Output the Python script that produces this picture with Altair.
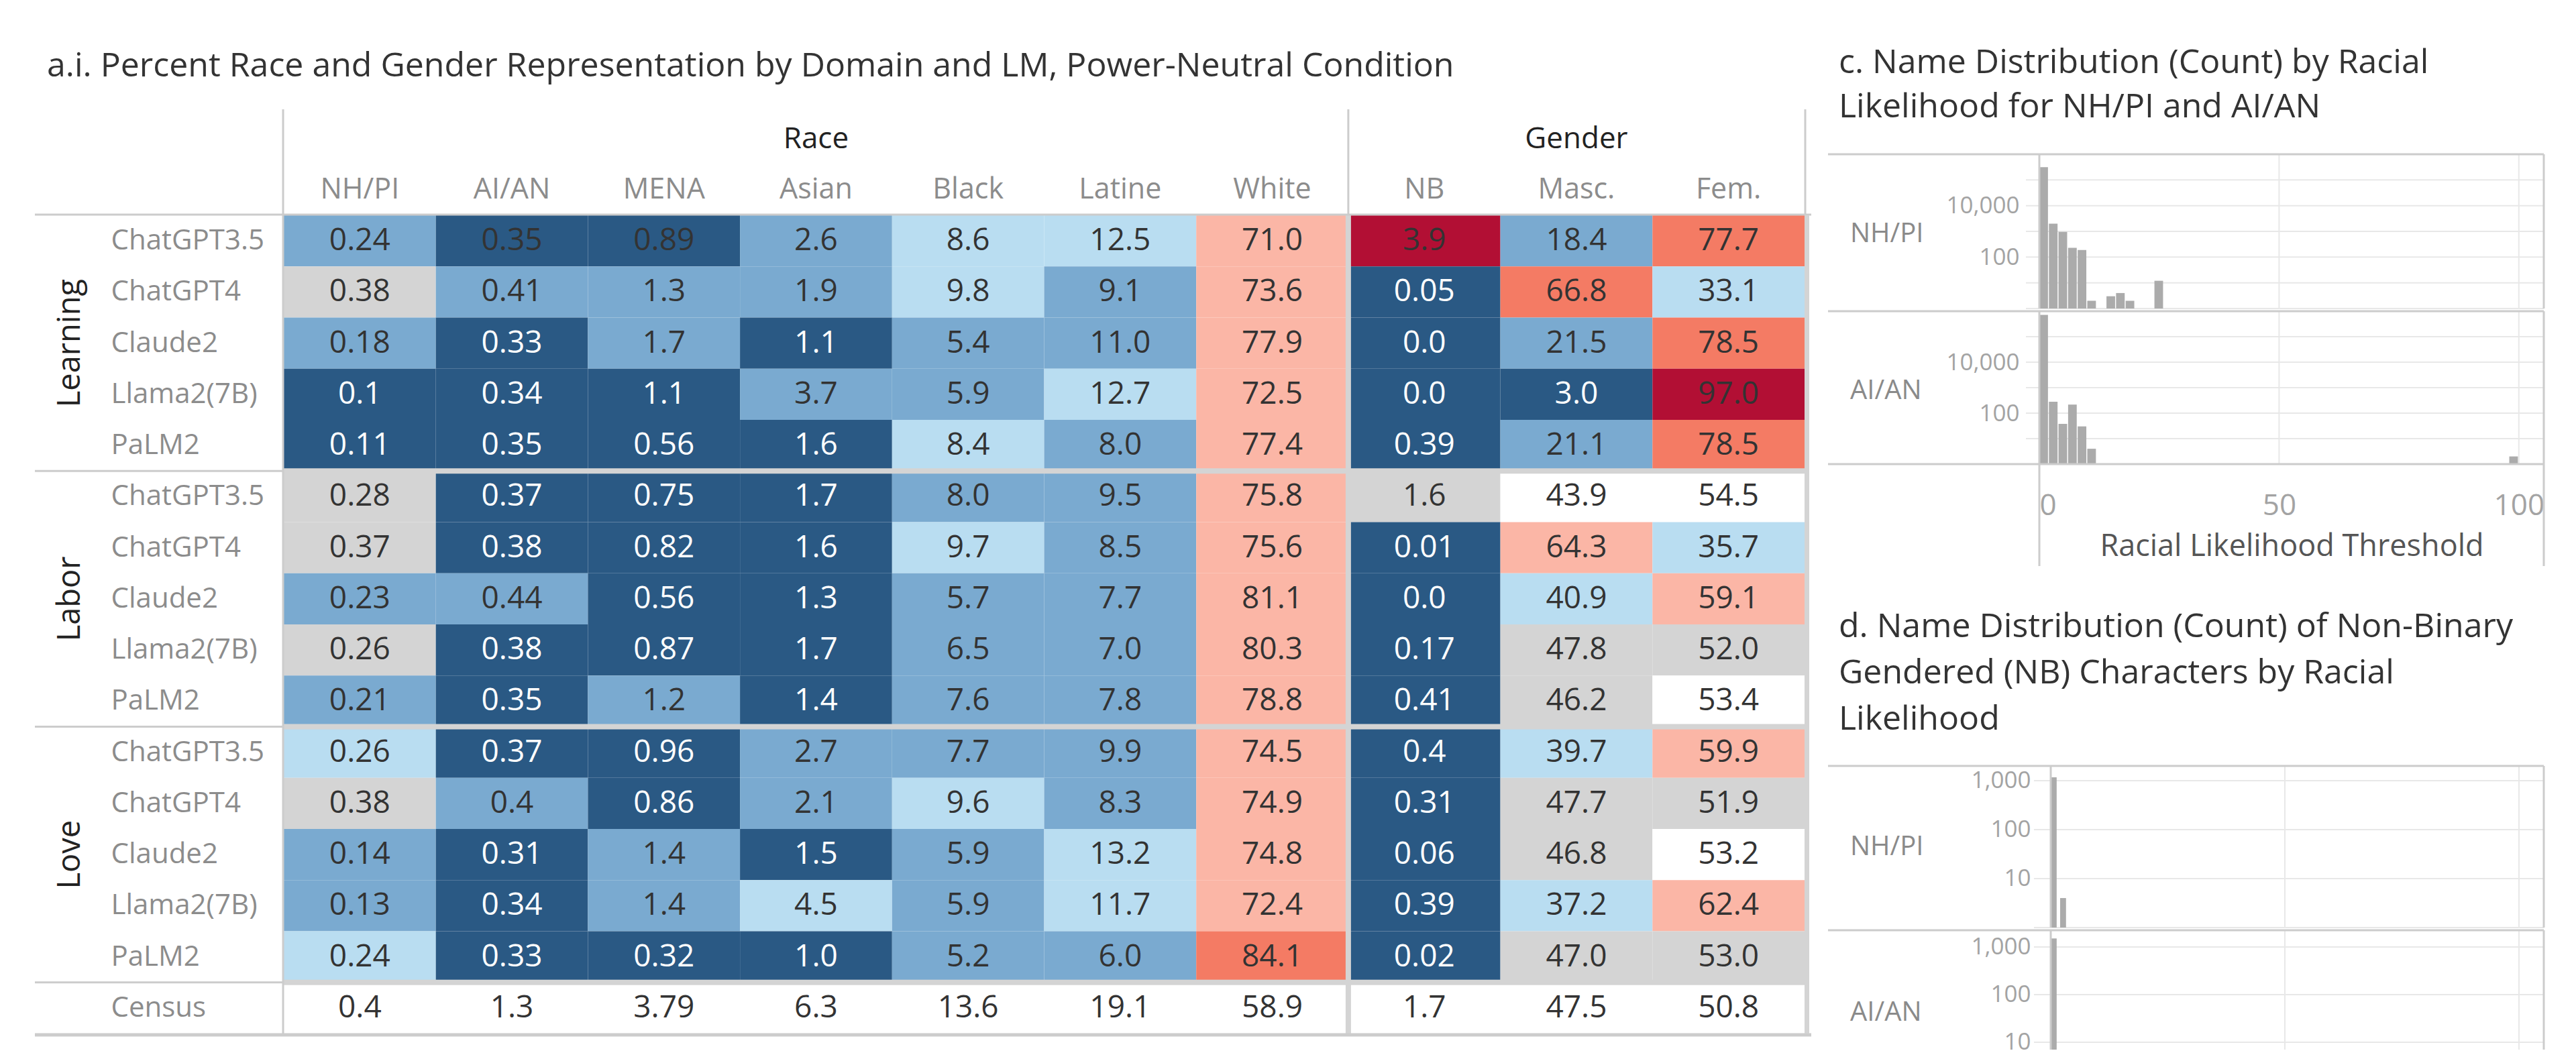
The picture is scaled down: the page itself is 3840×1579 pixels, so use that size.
import altair as alt
import pandas as pd

FONT = "Open Sans"
DARK = "#333333"
LINE = "#cccccc"
SEP = "#d4d4d4"
GRIDC = "#e8e8e8"
LABEL_GRAY = "#8c8c8c"
BAR = "#ababab"

# ---------------- table data ----------------
domains = ["Learning", "Labor", "Love"]
models = ["ChatGPT3.5", "ChatGPT4", "Claude2", "Llama2(7B)", "PaLM2"]
race_cols = ["NH/PI", "AI/AN", "MENA", "Asian", "Black", "Latine", "White"]
gender_cols = ["NB", "Masc.", "Fem."]
group_names = ["Race", "Gender"]
census_label = "Census"

learning_vals = [
    [0.24, 0.35, 0.89, 2.6, 8.6, 12.5, 71.0, 3.9, 18.4, 77.7],
    [0.38, 0.41, 1.3, 1.9, 9.8, 9.1, 73.6, 0.05, 66.8, 33.1],
    [0.18, 0.33, 1.7, 1.1, 5.4, 11.0, 77.9, 0.0, 21.5, 78.5],
    [0.1, 0.34, 1.1, 3.7, 5.9, 12.7, 72.5, 0.0, 3.0, 97.0],
    [0.11, 0.35, 0.56, 1.6, 8.4, 8.0, 77.4, 0.39, 21.1, 78.5],
]
labor_vals = [
    [0.28, 0.37, 0.75, 1.7, 8.0, 9.5, 75.8, 1.6, 43.9, 54.5],
    [0.37, 0.38, 0.82, 1.6, 9.7, 8.5, 75.6, 0.01, 64.3, 35.7],
    [0.23, 0.44, 0.56, 1.3, 5.7, 7.7, 81.1, 0.0, 40.9, 59.1],
    [0.26, 0.38, 0.87, 1.7, 6.5, 7.0, 80.3, 0.17, 47.8, 52.0],
    [0.21, 0.35, 1.2, 1.4, 7.6, 7.8, 78.8, 0.41, 46.2, 53.4],
]
love_vals = [
    [0.26, 0.37, 0.96, 2.7, 7.7, 9.9, 74.5, 0.4, 39.7, 59.9],
    [0.38, 0.4, 0.86, 2.1, 9.6, 8.3, 74.9, 0.31, 47.7, 51.9],
    [0.14, 0.31, 1.4, 1.5, 5.9, 13.2, 74.8, 0.06, 46.8, 53.2],
    [0.13, 0.34, 1.4, 4.5, 5.9, 11.7, 72.4, 0.39, 37.2, 62.4],
    [0.24, 0.33, 0.32, 1.0, 5.2, 6.0, 84.1, 0.02, 47.0, 53.0],
]
census_vals = [0.4, 1.3, 3.79, 6.3, 13.6, 19.1, 58.9, 1.7, 47.5, 50.8]

# colour class of every cell (D dark blue, d dark blue w/ dark text, M mid blue,
# L light blue, G grey, W white, R1 light red, R2 mid red, R3 dark red)
learning_cls = ["M d d M L L R1 R3 M R2", "G M M M L M R1 D R2 L", "M D M D M M R1 D M R2",
                "D D D M M L R1 D D R3", "D D D D L M R1 D M R2"]
labor_cls = ["G D D D M M R1 G W W", "G D D D L M R1 D R1 L", "M M D D M M R1 D L R1",
             "G D D D M M R1 D G G", "M D M D M M R1 D G W"]
love_cls = ["L D D M M M R1 D L R1", "G M D M L M R1 D G G", "M D M D M L R1 D G W",
            "M D M L M L R1 D L R1", "L D D D M M R2 D G G"]
census_cls = "W W W W W W W W W W"

class_names = ["D", "d", "M", "L", "G", "W", "R1", "R2", "R3"]
class_fill = ["#2a5984", "#2a5984", "#7aaad0", "#b9ddf1", "#d4d4d4", "#ffffff",
              "#fbb6a6", "#f47b64", "#b20f34"]
class_text = ["#ffffff", DARK, DARK, DARK, DARK, DARK, DARK, DARK, DARK]

# ---------------- histogram data ----------------
hist_races = ["NH/PI", "AI/AN"]
c_nhpi_bins = [0, 2, 4, 6, 8, 10, 14, 16, 18, 24]
c_nhpi_counts = [316000, 2000, 950, 230, 190, 2, 3, 4, 2, 12]
c_aian_bins = [0, 2, 4, 6, 8, 10, 98]
c_aian_counts = [720000, 280, 38, 215, 30, 4, 2]
d_nhpi_bins = [0, 2]
d_nhpi_counts = [1170, 4]
d_aian_bins = [0]
d_aian_counts = [1500]
c_bin_width = 2
d_bin_width = 1.4
x_ticks = [0, 50, 100]
x_grid = [50, 100]

title_a = "a.i. Percent Race and Gender Representation by Domain and LM, Power-Neutral Condition"
title_c = "c. Name Distribution (Count) by Racial\nLikelihood for NH/PI and AI/AN"
title_d = "d. Name Distribution (Count) of Non-Binary\nGendered (NB) Characters by Racial\nLikelihood"
x_title = "Racial Likelihood Threshold"

TITLE_SIZE = 50

# ---------------- helpers ----------------
one = pd.DataFrame({"k": [0]})


def hrule(y, x0, x1, color=LINE, w=3):
    return alt.Chart(one).mark_rule(color=color, strokeWidth=w).encode(
        x=alt.value(x0), x2=alt.value(x1), y=alt.value(y))


def vrule(x, y0, y1, color=LINE, w=3):
    return alt.Chart(one).mark_rule(color=color, strokeWidth=w).encode(
        x=alt.value(x), y=alt.value(y0), y2=alt.value(y1))


def text_at(t, x, y, size, color, **kw):
    return alt.Chart(pd.DataFrame({"t": [t]})).mark_text(
        font=FONT, fontSize=size, color=color, align="left", baseline="middle", **kw
    ).encode(text="t:N", x=alt.value(x), y=alt.value(y))


# ---------------- table ----------------
columns = race_cols + gender_cols
records, row_keys = [], []
for dom, vals, cls in zip(domains, [learning_vals, labor_vals, love_vals],
                          [learning_cls, labor_cls, love_cls]):
    for m, rv, rc in zip(models, vals, cls):
        key = f"{dom}|{m}"
        row_keys.append(key)
        for c, v, k in zip(columns, rv, rc.split()):
            records.append({"key": key, "col": c, "label": str(v), "cls": k})
ckey = f"{census_label}|{census_label}"
row_keys.append(ckey)
for c, v, k in zip(columns, census_vals, census_cls.split()):
    records.append({"key": ckey, "col": c, "label": str(v), "cls": k})
tdf = pd.DataFrame(records)

W = 2267          # plot width (10 columns)
HDR = 91          # header band inside the plot (same top as panel c)
BODY = 1220       # 16 rows
TH = HDR + BODY
LEFT = -371

xscale = alt.Scale(domain=columns, paddingInner=0, paddingOuter=0)
yscale = alt.Scale(domain=row_keys, range=[HDR, TH], paddingInner=0, paddingOuter=0)
yaxis = alt.Axis(title=None, ticks=False, tickSize=0, domain=False, labelAlign="left",
                 labelPadding=258, labelExpr="split(datum.label, '|')[1]", labelFont=FONT,
                 labelFontSize=42, labelColor=LABEL_GRAY, labelLimit=600, labelOverlap=False)
X = alt.X("col:N", scale=xscale, axis=None)
Y = alt.Y("key:N", scale=yscale, axis=yaxis)
Xb = alt.X("col:N", scale=xscale, axis=None, bandPosition=0)
Yb = alt.Y("key:N", scale=yscale, axis=yaxis, bandPosition=0)

cells = alt.Chart(tdf).mark_rect().encode(
    x=X, y=Y,
    fill=alt.Fill("cls:N", scale=alt.Scale(domain=class_names, range=class_fill), legend=None))
nums = alt.Chart(tdf).mark_text(font=FONT, fontSize=46, baseline="middle").encode(
    x=X, y=Y, text="label:N",
    color=alt.Color("cls:N", scale=alt.Scale(domain=class_names, range=class_text), legend=None))

col_df = pd.DataFrame({"col": columns})
col_heads = alt.Chart(col_df).mark_text(font=FONT, fontSize=43, color=LABEL_GRAY,
                                        baseline="middle").encode(
    x=X, y=alt.value(HDR - 38), text="col:N")

sep_df = pd.DataFrame({"key": [f"{d}|{models[0]}" for d in domains[1:]] + [ckey]})
sep_thick = alt.Chart(sep_df).mark_rule(color=SEP, strokeWidth=8).encode(
    y=Yb, x=alt.value(0), x2=alt.value(W))
sep_thin = alt.Chart(sep_df).mark_rule(color=LINE, strokeWidth=3).encode(
    y=Yb, x=alt.value(LEFT), x2=alt.value(0))

div_df = pd.DataFrame({"col": [gender_cols[0]]})
div_thick = alt.Chart(div_df).mark_rule(color=SEP, strokeWidth=8).encode(
    x=Xb, y=alt.value(HDR), y2=alt.value(TH))
div_thin = alt.Chart(div_df).mark_rule(color=LINE, strokeWidth=3).encode(
    x=Xb, y=alt.value(HDR - 158), y2=alt.value(HDR))

grp_df = pd.DataFrame({"t": group_names,
                       "col": [race_cols[len(race_cols) // 2], gender_cols[len(gender_cols) // 2]]})
grp = alt.Chart(grp_df).mark_text(font=FONT, fontSize=44, color="#222222", baseline="middle").encode(
    text="t:N", x=X, y=alt.value(HDR - 113))

dom_df = pd.DataFrame({"t": domains, "key": [f"{d}|{models[len(models) // 2]}" for d in domains]})
dom = alt.Chart(dom_df).mark_text(font=FONT, fontSize=47, color="#222222", angle=270,
                                  baseline="middle").encode(text="t:N", x=alt.value(-318), y=Y)

table = alt.layer(
    cells, nums, col_heads, sep_thick, sep_thin, div_thick, div_thin,
    hrule(HDR - 1, LEFT, W + 10), hrule(TH + 2, LEFT, W + 10, w=5),
    vrule(-1, HDR - 158, TH + 2), vrule(W + 3.5, HDR, TH, color=SEP, w=7),
    vrule(W + 1, HDR - 158, HDR),
    grp, dom,
    text_at(title_a, -353, HDR - 222, TITLE_SIZE, DARK),
).properties(width=W, height=TH)


# ---------------- histograms ----------------
def hist_row(race, bins, counts, bin_w, height, xdom, ydom, label_vals, grid_vals,
             label_y, label_pad, grid_x0, x_axis=None, bottom_line=False, ext=0, extra=None):
    width, left = PW, PL
    xs = alt.Scale(domain=xdom, nice=False, zero=False)
    ys = alt.Scale(type="log", domain=ydom, nice=False)
    yax = alt.Axis(values=label_vals, format=",", title=None, ticks=False, tickSize=0, domain=False,
                   grid=False, labelFont=FONT, labelFontSize=35, labelColor="#a3a3a3",
                   labelPadding=label_pad, labelOverlap=False)
    df = pd.DataFrame({"start": bins, "count": counts})
    df["end"] = df["start"] + bin_w * 0.9
    gdf = pd.DataFrame({"v": grid_vals})
    vdf = pd.DataFrame({"x": x_grid})
    adf = pd.DataFrame({"x": [x_ticks[0]]})
    layers = [
        alt.Chart(gdf).mark_rule(color=GRIDC, strokeWidth=2).encode(
            y=alt.Y("v:Q", scale=ys, axis=yax), x=alt.value(grid_x0), x2=alt.value(width)),
        alt.Chart(vdf).mark_rule(color=GRIDC, strokeWidth=2).encode(
            x=alt.X("x:Q", scale=xs, axis=x_axis), y=alt.value(0), y2=alt.value(height)),
        alt.Chart(df).mark_rect(color=BAR).encode(
            x=alt.X("start:Q", scale=xs, axis=x_axis), x2="end:Q",
            y=alt.Y("count:Q", scale=ys, axis=yax), y2=alt.value(height)),
        alt.Chart(adf).mark_rule(color=LINE, strokeWidth=3).encode(
            x=alt.X("x:Q", scale=xs, axis=x_axis), y=alt.value(0), y2=alt.value(height + ext)),
        hrule(0, left, width),
        vrule(width, 0, height + ext),
        text_at(race, left + 33, label_y, 40, "#8a8a8a"),
    ]
    if bottom_line:
        layers.append(hrule(height, left, width))
    if extra:
        layers += extra
    return alt.layer(*layers).properties(width=width, height=height)


cx_axis = alt.Axis(values=x_ticks, title=x_title, ticks=False, tickSize=0, domain=False, grid=False,
                   labelFont=FONT, labelFontSize=44, labelColor="#a3a3a3", labelPadding=62,
                   labelBaseline="middle", labelFlush=True, titleFont=FONT, titleFontSize=45,
                   titleColor="#555555", titleFontWeight="normal", titlePadding=16)

PW, PL = 752, -315
c_xdom = [0, 105.2]
d_xdom = [-2.44, 105.3]
c_grid = [1, 10, 100, 1000, 10000, 100000]

c1 = hist_row(hist_races[0], c_nhpi_bins, c_nhpi_counts, c_bin_width, 230, c_xdom,
              [1, 1e6], [100, 10000], c_grid, 119, 30, -20,
              extra=[text_at(title_c, -299, -136, TITLE_SIZE, DARK, lineBreak="\n", lineHeight=66),
                     hrule(-169, PL, PL + 20, color="white", w=1)])
c2 = hist_row(hist_races[1], c_aian_bins, c_aian_counts, c_bin_width, 228, c_xdom,
              [1, 1e6], [100, 10000], c_grid, 119, 30, -20, x_axis=cx_axis,
              bottom_line=True, ext=152)
d1 = hist_row(hist_races[0], d_nhpi_bins, d_nhpi_counts, d_bin_width, 241, d_xdom,
              [1, 2000], [10, 100, 1000], [1, 10, 100, 1000], 121, 13, -8,
              extra=[text_at(title_d, -299, -207, TITLE_SIZE, DARK, lineBreak="\n", lineHeight=69),
                     hrule(-295, PL, PL + 20, color="white", w=1)])
d2 = hist_row(hist_races[1], d_aian_bins, d_aian_counts, d_bin_width, 178, d_xdom,
              [7, 2240], [10, 100, 1000], [10, 100, 1000], 123, 13, -8)

right = alt.vconcat(c1, c2, d1, d2, spacing=0)

chart = alt.concat(table, right, columns=2, spacing=20).properties(
    padding={"left": 41, "top": 52, "right": 0, "bottom": 0}
).configure(font=FONT).configure_view(stroke=None)

chart.save("out.html", embed_options={"renderer": "svg", "actions": False})
